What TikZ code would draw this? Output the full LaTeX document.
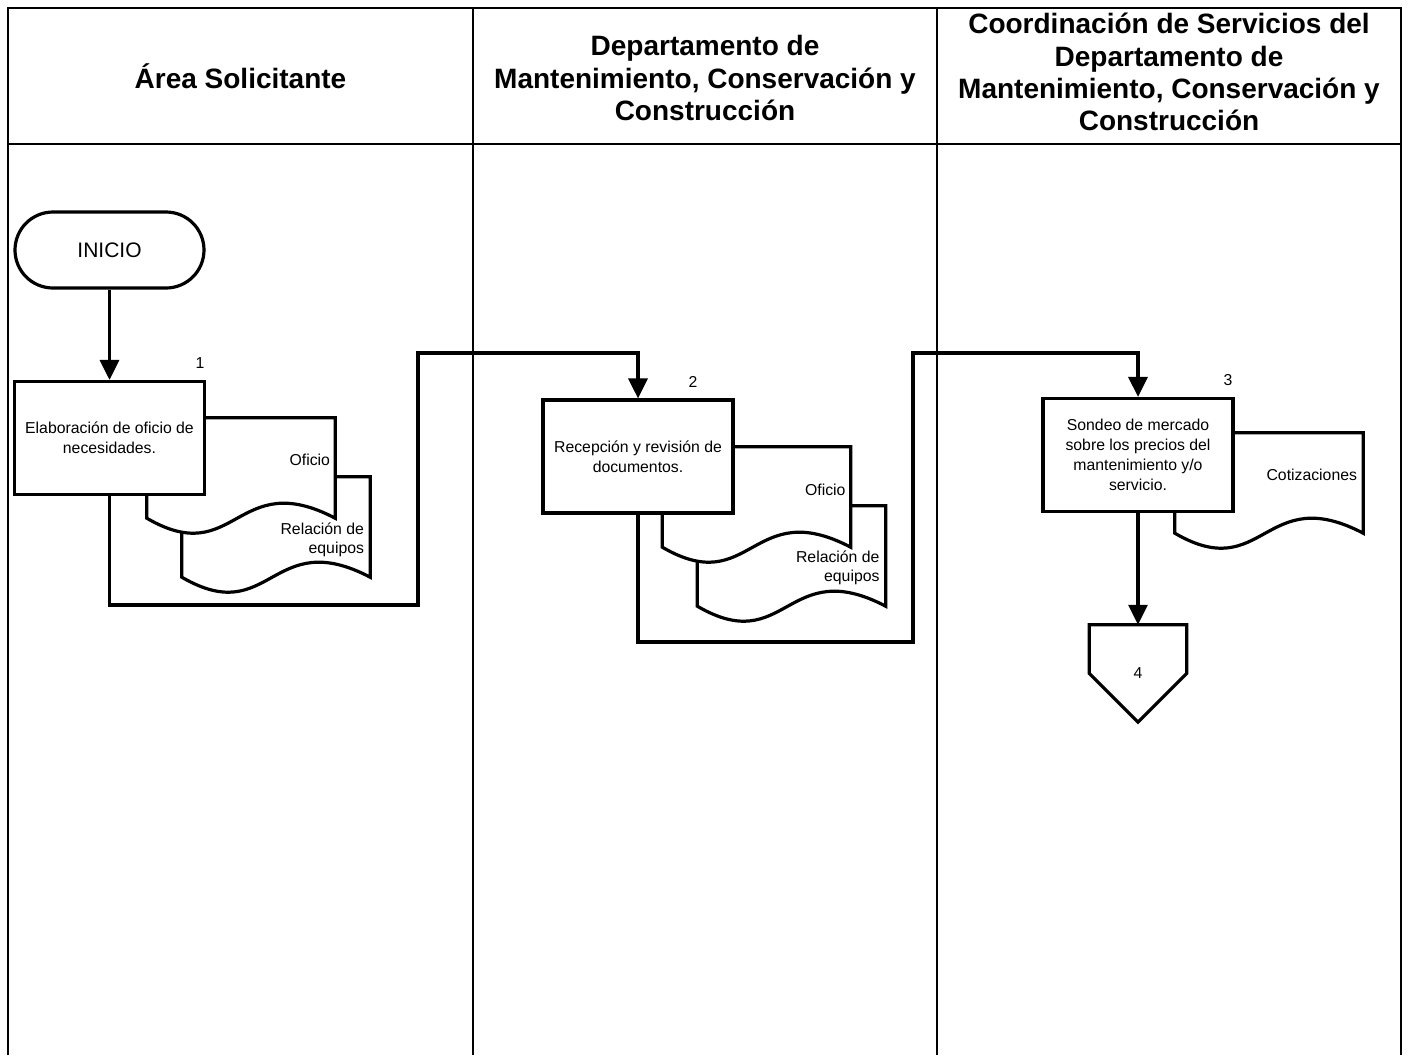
\documentclass[tikz,border=0pt]{standalone}
\usepackage{fontspec}
\setmainfont{Liberation Sans}
\usetikzlibrary{arrows.meta,calc}

% outline of a flowchart "document" symbol, built on the anchors of a plain node
\newcommand\docoutline[1]{%
  \draw[docline] (#1.north west) -- (#1.north east) -- (#1.south east)
    .. controls ($(#1.south)+(-5,-52)$) and ($(#1.south)+(-5,52)$) .. (#1.south west) -- cycle;}

\begin{document}
\begin{tikzpicture}[x=1pt,y=-1pt,
  frame/.style={line width=2.8pt},
  lanehead/.style={font=\bfseries\fontsize{28}{32.2}\selectfont, align=center, inner sep=0pt},
  procbox/.style={draw, fill=white, line width=3.2pt, minimum width=190pt, minimum height=113pt,
    inner sep=2pt, align=center, font=\fontsize{15.8}{19.8}\selectfont},
  terminal/.style={draw, line width=3.2pt, rounded corners=38pt, minimum width=189pt,
    minimum height=76pt, font=\fontsize{21}{25}\selectfont},
  docbox/.style={minimum width=188pt, minimum height=100pt, inner sep=0pt},
  docline/.style={line width=3.2pt, fill=white, line join=miter},
  doctext/.style={anchor=east, align=right, inner sep=0pt, font=\fontsize{15.8}{19}\selectfont},
  stepnum/.style={font=\fontsize{15.8}{19}\selectfont, inner sep=0pt},
  link/.style={line width=3.2pt},
  flow/.style={line width=3.2pt, -{Triangle[width=19pt,length=20pt]}},
  offpage/.style={minimum width=97pt, minimum height=97pt, inner sep=0pt, font=\fontsize{15.8}{19}\selectfont}
]
\useasboundingbox (0,0) rectangle (1408,1055);

% swimlane frame
\draw[frame] (8,1055) -- (8,8) -- (1401,8) -- (1401,1055);
\draw[frame] (473,8) -- (473,1055);
\draw[frame] (937,8) -- (937,1055);
\draw[frame] (8,144) -- (1401,144);

% lane headings
\node[lanehead] (h1) at (240.5,76) {Área Solicitante};
\node[lanehead] (h2) at (705,78) {Departamento de\\Mantenimiento, Conservación y\\Construcción};
\node[lanehead] (h3) at (1169,72) {Coordinación de Servicios del\\Departamento de\\Mantenimiento, Conservación y\\Construcción};

% start
\node[terminal] (inicio) at (109.5,250) {INICIO};

% documents of step 1
\node[docbox] (d1b) at (276,527) {};
\docoutline{d1b}
\node[doctext] (t1b) at ($(d1b.north east)+(-6,63)$) {Relación de\\equipos};
\node[docbox] (d1a) at (241,468) {};
\docoutline{d1a}
\node[doctext] (t1a) at ($(d1a.north east)+(-5,42)$) {Oficio};

% step 1
\node[procbox] (p1) at (109.5,438) {Elaboración de oficio de\\necesidades.};
\node[stepnum] (n1) at (200,363) {1};

% documents of step 2
\node[docbox] (d2b) at (791.5,556) {};
\docoutline{d2b}
\node[doctext] (t2b) at ($(d2b.north east)+(-6,62)$) {Relación de\\equipos};
\node[docbox] (d2a) at (756.5,497) {};
\docoutline{d2a}
\node[doctext] (t2a) at ($(d2a.north east)+(-5,43)$) {Oficio};

% step 2
\node[procbox] (p2) at (638,456.5) {Recepción y revisión de\\documentos.};
\node[stepnum] (n2) at (693,382) {2};

% document of step 3
\node[docbox] (d3) at (1269,483) {};
\docoutline{d3}
\node[doctext] (t3) at ($(d3.north east)+(-6,42)$) {Cotizaciones};

% step 3
\node[procbox] (p3) at (1138,455) {Sondeo de mercado\\sobre los precios del\\mantenimiento y/o\\servicio.};
\node[stepnum] (n3) at (1228,380) {3};

% off-page connector
\node[offpage] (off4) at (1138,673.5) {4};
\draw[link, line join=miter] (off4.north west) -- (off4.north east) -- (off4.east)
  -- (off4.south) -- (off4.west) -- cycle;

% bends of the connectors
\coordinate (b1) at (418,605);
\coordinate (j1) at (418,353);
\coordinate (b2) at (913,642);
\coordinate (j2) at (913,353);

% connectors
\draw[flow] (inicio) -- (p1);
\draw[flow] (p1.south) |- (b1) -- (j1) -| (p2.north);
\draw[flow] (p2.south) |- (b2) -- (j2) -| (p3.north);
\draw[flow] (p3.south) -- (off4.north);
\end{tikzpicture}
\end{document}
